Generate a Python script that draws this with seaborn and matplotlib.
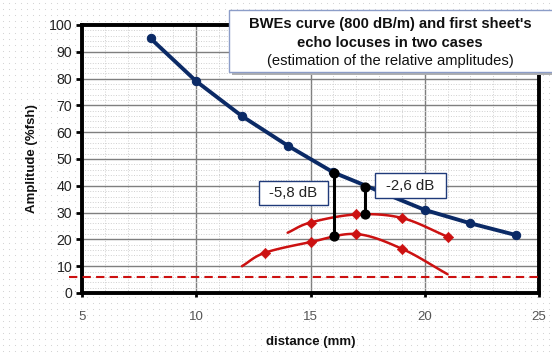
import numpy as np
import pandas as pd
import matplotlib
matplotlib.use("Agg")
import matplotlib.pyplot as plt
from matplotlib.patches import Rectangle
import seaborn as sns

# ---- data ----
bwe_x = [8, 10, 12, 14, 16, 20, 22, 24]
bwe_y = [95, 79, 66, 55, 45, 31, 26, 21.6]

echo1_x = [14, 15, 17, 19, 21]          # upper locus
echo1_y = [22.5, 26.3, 29.3, 28, 21]
echo1_marked = [False, True, True, True, True]

echo2_x = [12, 13, 15, 17, 19, 21]      # lower locus
echo2_y = [10, 15, 19, 22, 16.5, 7]
echo2_marked = [False, True, True, True, True, False]

ref_level = 6
gap_x = [16.05, 17.4]
gap_top = [44.9, 39.6]
gap_bottom = [21.3, 29.5]
gap_labels = ["-5,8 dB", "-2,6 dB"]

x_ticks = [5, 10, 15, 20, 25]
y_ticks = list(range(0, 101, 10))
title_lines = ["BWEs curve (800 dB/m) and first sheet's", "echo locuses in two cases",
               "(estimation of the relative amplitudes)"]

NAVY = "#0b2a66"
RED = "#cc1111"

sns.set_theme(style="white")
plt.rcParams['font.family'] = ['Liberation Sans', 'DejaVu Sans']

fig = plt.figure(figsize=(5.52, 3.56), dpi=100)

# faint dotted background pattern
bg = fig.add_axes([0, 0, 1, 1], zorder=-10)
bg.set_xlim(0, 552); bg.set_ylim(356, 0); bg.axis('off')
gx, gy = np.meshgrid(np.arange(3, 552, 6), np.arange(3, 356, 6))
bg.scatter(gx.ravel(), gy.ravel(), s=0.6, color='#cfcfcf', linewidths=0)

ax = fig.add_axes([82/552, 1-293/356, (539-82)/552, (293-25)/356])
ax.set_facecolor('white')


def catmull(xs, ys, n=20):
    xs = np.asarray(xs, float); ys = np.asarray(ys, float)
    P = np.column_stack([xs, ys])
    P = np.vstack([2*P[0]-P[1], P, 2*P[-1]-P[-2]])
    out = []
    for i in range(1, len(P)-2):
        p0, p1, p2, p3 = P[i-1], P[i], P[i+1], P[i+2]
        t = np.linspace(0, 1, n, endpoint=(i == len(P)-3))[:, None]
        pts = 0.5*((2*p1) + (-p0+p2)*t + (2*p0-5*p1+4*p2-p3)*t**2 + (-p0+3*p1-3*p2+p3)*t**3)
        out.append(pts)
    out = np.vstack(out)
    return out[:, 0], out[:, 1]

# grid
ax.set_xlim(5, 25)
ax.set_ylim(0, 100)
ax.set_xticks(x_ticks)
ax.set_yticks(y_ticks)
ax.set_xticks(np.arange(5, 25.01, 1), minor=True)
ax.set_yticks(np.arange(0, 100.01, 2), minor=True)
ax.grid(which='major', color='#7f7f7f', lw=1.0, ls='-')
ax.grid(which='minor', color='#d0d0d0', lw=0.7, ls=':')
ax.set_axisbelow(True)

# BWE curve
dfb = pd.DataFrame({"x": bwe_x, "y": bwe_y})
sns.lineplot(data=dfb, x="x", y="y", ax=ax, color=NAVY, lw=2.8, marker='o',
             markersize=6, markeredgecolor=NAVY, markerfacecolor=NAVY, zorder=4)

# echo loci
for xs, ys, mk in [(echo1_x, echo1_y, echo1_marked), (echo2_x, echo2_y, echo2_marked)]:
    sx, sy = catmull(xs, ys)
    ax.plot(sx, sy, color=RED, lw=1.8, zorder=3)
    dfm = pd.DataFrame({"x": np.array(xs)[mk], "y": np.array(ys)[mk]})
    sns.scatterplot(data=dfm, x="x", y="y", ax=ax, color=RED, marker='D', s=28,
                    edgecolor=RED, zorder=4)

# reference dashed line (extends left past axis)
ax.plot([4.45, 25.1], [ref_level, ref_level], color=RED, lw=1.5, ls=(0, (4, 2.5)),
        clip_on=False, zorder=3)

# gap lines
for gx_, gt, gb in zip(gap_x, gap_top, gap_bottom):
    ax.plot([gx_, gx_], [gb, gt], color='black', lw=2.2, zorder=5)
    ax.scatter([gx_, gx_], [gb, gt], color='black', s=40, zorder=6)

# dB label boxes (figure pixel positions)
for (x0, y0, x1, y1), lab in zip([(259, 181, 328, 205), (375, 173, 446, 198)], gap_labels):
    r = Rectangle((x0/552, 1-y1/356), (x1-x0)/552, (y1-y0)/356, transform=fig.transFigure,
                  facecolor='white', edgecolor='#1f3a7a', lw=1.0, zorder=10)
    fig.add_artist(r)
    fig.text((x0+x1)/2/552, 1-(y0+y1)/2/356, lab, ha='center', va='center',
             fontsize=10.8, color='#222222', zorder=11)

# title box with shadow
sh = Rectangle((232/552, 1-75/356), (560-232)/552, (75-13)/356, transform=fig.transFigure,
               facecolor='#b0b0b0', edgecolor='none', zorder=9)
fig.add_artist(sh)
tb = Rectangle((229/552, 1-72/356), (560-229)/552, (72-10)/356, transform=fig.transFigure,
               facecolor='white', edgecolor='#8c9dc8', lw=1.0, zorder=10)
fig.add_artist(tb)
fig.text(390/552, 1-24/356, title_lines[0], ha='center', va='center', fontsize=10.6,
         fontweight='bold', color='#111111', zorder=11)
fig.text(390/552, 1-43/356, title_lines[1], ha='center', va='center', fontsize=10.6,
         fontweight='bold', color='#111111', zorder=11)
fig.text(390/552, 1-61/356, title_lines[2], ha='center', va='center', fontsize=10.6,
         color='#111111', zorder=11)

# spines & ticks
for s in ax.spines.values():
    s.set_color('black')
    s.set_linewidth(2.8)
ax.tick_params(axis='y', which='major', left=True, length=4, width=2, color='black',
               labelsize=10.2, labelcolor='#222222', pad=3)
ax.tick_params(axis='x', which='major', bottom=True, length=3, width=2, color='black',
               labelsize=9.5, labelcolor='#555555', pad=10)
ax.tick_params(which='minor', length=0)
ax.set_xlabel("distance (mm)", fontsize=9.5, fontweight='bold', color='#111111', labelpad=9)
ax.set_ylabel("Amplitude (%fsh)", fontsize=9.5, fontweight='bold', color='#111111', labelpad=8)

fig.savefig("out.png", dpi=100, facecolor='white')
